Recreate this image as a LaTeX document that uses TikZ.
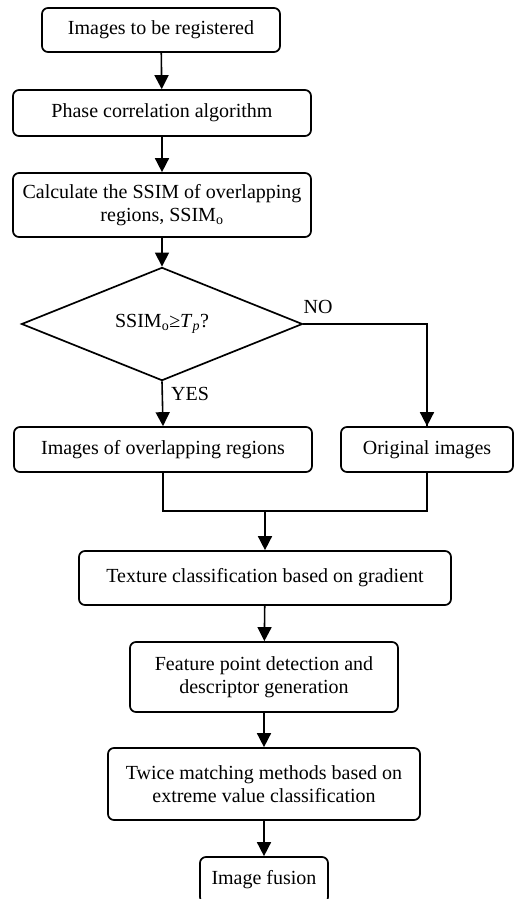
\documentclass[tikz,border=0pt]{standalone}
\usepackage{fontspec}
\setmainfont{Liberation Serif}
\usetikzlibrary{shapes.geometric,arrows.meta}
\begin{document}
\begin{tikzpicture}[x=1pt, y=-1pt,
  every node/.append style={font=\fontsize{20}{23}\selectfont},
  box/.style={draw, line width=1.7pt, rounded corners=6pt, align=center, inner sep=2pt},
  choice/.style={draw, diamond, line width=1.7pt, inner sep=0pt},
  arrow/.style={line width=1.6pt, -{Triangle[length=14pt,width=14pt]}},
  link/.style={line width=1.2pt}]
  \useasboundingbox (0,0) rectangle (514,899);
  % main column
  \node[box, minimum width=238pt, minimum height=44pt] (register) at (161,30) {Images to be registered};
  \node[box, minimum width=298pt, minimum height=46pt] (phase) at (162,113) {Phase correlation algorithm};
  \node[box, minimum width=298pt, minimum height=64pt] (ssim) at (162,205) {Calculate the SSIM of overlapping\\regions, SSIM\textsubscript{o}};
  \node[choice, minimum width=281pt, minimum height=104pt] (check) at (162,324) {SSIM\textsubscript{o}≥\textit{T}\textsubscript{\textit{p}}?};
  % two branches
  \node[box, minimum width=298pt, minimum height=45pt] (overlap) at (163,449.5) {Images of overlapping regions};
  \node[box, minimum width=172pt, minimum height=45pt] (orig) at (427,449.5) {Original images};
  \node (yes) at (190,394) {YES};
  \node (no) at (318,307) {NO};
  % lower column
  \node[box, minimum width=372pt, minimum height=54pt] (texture) at (265,578) {Texture classification based on gradient};
  \node[box, minimum width=268pt, minimum height=70pt] (feature) at (264,677) {Feature point detection and\\descriptor generation};
  \node[box, minimum width=312pt, minimum height=72pt] (twice) at (264,784) {Twice matching methods based on\\extreme value classification};
  \node[box, minimum width=128pt, minimum height=46pt] (fusion) at (264,880) {Image fusion};
  % connectors
  \draw[arrow] (register) -- (phase);
  \draw[arrow] (phase) -- (ssim);
  \draw[arrow] (ssim.south) -- (check.north);
  \draw[arrow] (check.south) -- (overlap.north);
  \draw[link] (check.east) -| (orig.north);
  \draw[arrow] (orig.north) ++(0,-14) -- (orig.north);
  \coordinate (join) at (265,511);
  \draw[link] (overlap.south) |- (join) -| (orig.south);
  \draw[arrow] (join) -- (texture.north);
  \draw[arrow] (texture) -- (feature);
  \draw[arrow] (feature) -- (twice);
  \draw[arrow] (twice) -- (fusion);
\end{tikzpicture}
\end{document}
